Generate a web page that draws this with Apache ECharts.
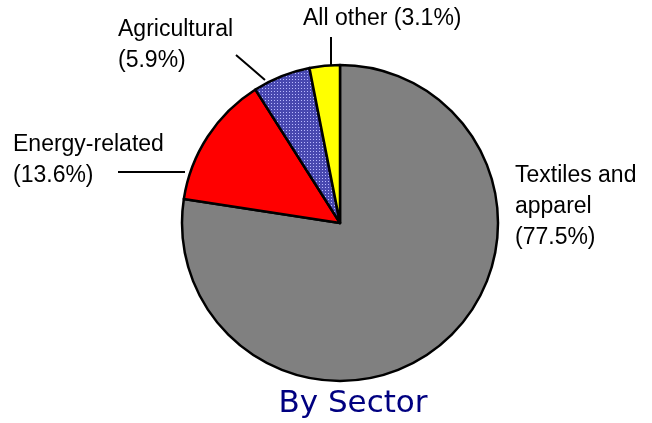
<!DOCTYPE html>
<html>
<head>
<meta charset="utf-8">
<script src="https://cdn.jsdelivr.net/npm/echarts@6/dist/echarts.min.js"></script>
<style>
  html, body { margin: 0; padding: 0; background: #fff; }
  #chart { width: 652px; height: 423px; }
</style>
</head>
<body>
<div id="chart"></div>
<script>
var sectors = ['Textiles and\napparel', 'Energy-related', 'Agricultural', 'All other'];
var shares = [77.5, 13.6, 5.9, 3.1];
var labelText = ['Textiles and\napparel\n(77.5%)', 'Energy-related\n(13.6%)', 'Agricultural\n(5.9%)', 'All other (3.1%)'];
var colors = ['#808080', '#ff0000', null, '#ffff00'];

// dotted blue fill for the agricultural slice
function dotPattern() {
    var c = document.createElement('canvas');
    c.width = 3;
    c.height = 3;
    var ctx = c.getContext('2d');
    ctx.fillStyle = '#4848b0';
    ctx.fillRect(0, 0, 3, 3);
    ctx.fillStyle = '#b8b8ff';
    ctx.fillRect(1, 1, 1, 1);
    return c;
}

// where each label sits (left edge, middle y) and its leader line
var labelSpots = [
    { x: 515, y: 207, line: null },
    { x: 13, y: 160, line: [[185, 172], [150, 172], [118, 172]] },
    { x: 118, y: 45, line: [[265, 80], [250, 67], [236, 55]] },
    { x: 303, y: 19, line: [[331, 65], [331, 50], [331, 37]] }
];

var pieData = [];
for (var i = 0; i < sectors.length; i++) {
    pieData.push({
        name: sectors[i],
        value: shares[i],
        itemStyle: {
            color: colors[i] || { image: dotPattern(), repeat: 'repeat' }
        },
        labelLine: { show: labelSpots[i].line !== null }
    });
}

var myChart = echarts.init(document.getElementById('chart'));
myChart.setOption({
    backgroundColor: '#fff',
    animation: false,
    title: {
        text: 'By Sector',
        left: 348,
        textAlign: 'center',
        top: 383,
        textStyle: {
            fontFamily: 'DejaVu Sans',
            fontSize: 31,
            fontWeight: 'normal',
            color: '#000080'
        }
    },
    series: [{
        type: 'pie',
        center: [340, 223],
        radius: 158,
        startAngle: 90,
        clockwise: true,
        data: pieData,
        emphasis: { disabled: true },
        itemStyle: {
            borderColor: '#000',
            borderWidth: 2.5
        },
        label: {
            show: true,
            formatter: function (p) { return labelText[p.dataIndex]; },
            fontFamily: 'Liberation Sans',
            fontSize: 23,
            lineHeight: 31,
            color: '#000',
            overflow: 'none'
        },
        labelLine: {
            show: true,
            lineStyle: { color: '#000', width: 2 }
        },
        labelLayout: function (params) {
            var s = labelSpots[params.dataIndex];
            var out = {
                x: s.x,
                y: s.y,
                align: 'left',
                verticalAlign: 'middle'
            };
            if (s.line) out.labelLinePoints = s.line;
            return out;
        }
    }]
});
</script>
</body>
</html>
